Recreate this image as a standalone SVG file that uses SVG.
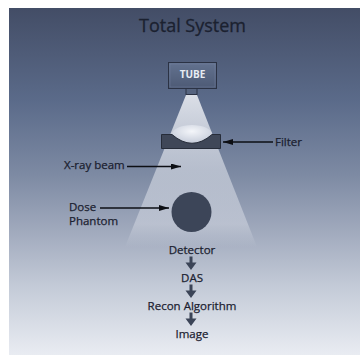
<svg xmlns="http://www.w3.org/2000/svg" width="360" height="356" viewBox="0 0 360 356">
  <defs>
    <linearGradient id="bg" x1="0" y1="0" x2="0" y2="1">
      <stop offset="0" stop-color="#434d66"/>
      <stop offset="0.27" stop-color="#5b6b8a"/>
      <stop offset="0.48" stop-color="#7d8aa3"/>
      <stop offset="0.65" stop-color="#a2abbe"/>
      <stop offset="0.8" stop-color="#c3cad7"/>
      <stop offset="1" stop-color="#e9ecf2"/>
    </linearGradient>
    <linearGradient id="beam" x1="0" y1="0" x2="0" y2="1">
      <stop offset="0" stop-color="#f2f4f8" stop-opacity="0.85"/>
      <stop offset="0.5" stop-color="#e6e9f0" stop-opacity="0.55"/>
      <stop offset="0.85" stop-color="#e6e9f0" stop-opacity="0.4"/>
      <stop offset="1" stop-color="#e6e9f0" stop-opacity="0"/>
    </linearGradient>
    <linearGradient id="tubeFill" x1="0" y1="0" x2="0" y2="1">
      <stop offset="0" stop-color="#63728f"/>
      <stop offset="1" stop-color="#4d5a75"/>
    </linearGradient>
    <radialGradient id="blob" cx="0.5" cy="0.35" r="0.6">
      <stop offset="0" stop-color="#f4f6fa"/>
      <stop offset="1" stop-color="#c9cfdc"/>
    </radialGradient>
    <marker id="ah" viewBox="0 0 10 6" refX="10" refY="3" markerWidth="10" markerHeight="6" markerUnits="userSpaceOnUse" orient="auto">
      <path d="M0,0 L10,3 L0,6 Z" fill="#0d0f14"/>
    </marker>
    <style>
      .lbl { font-family: "Open Sans", "Noto Sans", "DejaVu Sans", sans-serif; font-size: 11.5px; fill: #1b2130; stroke: #1b2130; stroke-width: 0.25; }
      .ttl { font-family: "Open Sans", "Noto Sans", "DejaVu Sans", sans-serif; font-size: 18px; fill: #1b2130; stroke: #1b2130; stroke-width: 0.3; }
      .lead { stroke: #0d0f14; stroke-width: 1.3; fill: none; marker-end: url(#ah); }
      .down { fill: #3b4457; }
    </style>
  </defs>

  <rect x="0" y="0" width="360" height="356" fill="#ffffff"/>
  <rect x="9" y="8" width="351" height="347" fill="url(#bg)"/>

  <g id="title">
    <text class="ttl" x="192.5" y="32" text-anchor="middle">Total System</text>
  </g>

  <g id="beam">
    <polygon points="186,95 197,95 257,247 125,247" fill="url(#beam)"/>
  </g>

  <g id="tube">
    <rect x="168.5" y="62.5" width="48" height="26" fill="url(#tubeFill)" stroke="#2b3244" stroke-width="1"/>
    <rect x="170" y="64" width="45" height="23" fill="none" stroke="#7c8aa6" stroke-width="0.6" opacity="0.6"/>
    <rect x="186" y="88.5" width="11" height="6" fill="#56647f" stroke="#2b3244" stroke-width="1"/>
    <text x="192.5" y="78" text-anchor="middle" font-family="'Open Sans', 'Noto Sans', 'DejaVu Sans', sans-serif" font-size="10" font-weight="bold" fill="#e8ecf3">TUBE</text>
  </g>

  <g id="filter">
    <ellipse cx="192" cy="134" rx="20" ry="9" fill="url(#blob)"/>
    <path d="M161.5,134.5 H172 Q192,152 212,134.5 H220.5 V148.5 H161.5 Z" fill="#3f4758" stroke="#262c39" stroke-width="1"/>
    <text class="lbl" x="275" y="146">Filter</text>
  </g>

  <g id="xray-label">
    <text class="lbl" x="64" y="169">X-ray beam</text>
  </g>

  <g id="phantom">
    <circle cx="191.5" cy="212" r="20" fill="#3c4558"/>
    <text class="lbl" x="69" y="211">Dose</text>
    <text class="lbl" x="69" y="225">Phantom</text>
  </g>

  <g id="detector"><text class="lbl" x="192" y="254" text-anchor="middle">Detector</text></g>
  <g id="das"><text class="lbl" x="192" y="282" text-anchor="middle">DAS</text></g>
  <g id="recon"><text class="lbl" x="192" y="310" text-anchor="middle">Recon Algorithm</text></g>
  <g id="image"><text class="lbl" x="192" y="338" text-anchor="middle">Image</text></g>

  <g id="connectors">
    <line class="lead" x1="273" y1="142" x2="223" y2="142"/>
    <line class="lead" x1="127" y1="166.5" x2="181" y2="166.5"/>
    <line class="lead" x1="100" y1="208" x2="169" y2="208"/>
    <polygon class="down" points="189.5,256.5 192.5,256.5 192.5,262.5 196.5,262.5 191,270 185.5,262.5 189.5,262.5"/>
    <polygon class="down" points="189.5,284.5 192.5,284.5 192.5,290.5 196.5,290.5 191,298 185.5,290.5 189.5,290.5"/>
    <polygon class="down" points="189.5,312.5 192.5,312.5 192.5,318.5 196.5,318.5 191,326 185.5,318.5 189.5,318.5"/>
  </g>
</svg>
